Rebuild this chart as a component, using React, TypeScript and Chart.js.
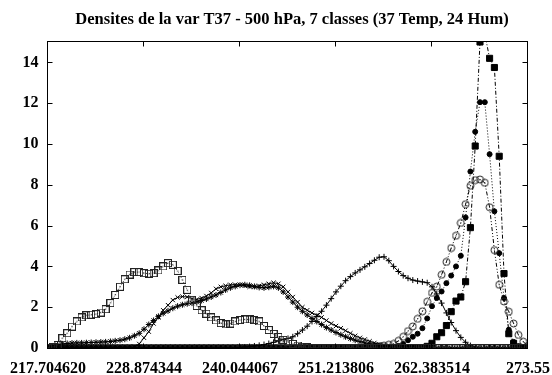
import React, { useEffect, useRef } from 'react';
import { Chart, registerables } from 'chart.js';

Chart.register(...registerables);

const FONT = '"Liberation Serif", "Times New Roman", serif';

const TITLE = 'Densites de la var T37 - 500 hPa, 7 classes (37 Temp, 24 Hum)';
const X_MIN = 217.70462;
const X_MAX = 273.553234;
const BIN_COUNT = 101;
const X_TICKS = [217.70462, 228.874344, 240.044067, 251.213806, 262.383514, 273.553234];
const X_TICK_LABELS = ['217.704620', '228.874344', '240.044067', '251.213806', '262.383514', '273.55'];
const Y_MAX = 15;
const Y_TICKS = [0, 2, 4, 6, 8, 10, 12, 14];

// class 1 : open squares
const CLASS_1 = [
  0, 0.05, 0.15, 0.48, 0.72, 1.05, 1.3, 1.5, 1.6, 1.63,
  1.66, 1.74, 1.9, 2.2, 2.6, 3.0, 3.37, 3.6, 3.72, 3.72,
  3.67, 3.64, 3.67, 3.8, 4.0, 4.16, 4.08, 3.78, 3.34, 2.85,
  2.36, 2.06, 1.85, 1.68, 1.5, 1.35, 1.22, 1.16, 1.2, 1.3,
  1.37, 1.4, 1.4, 1.37, 1.3, 1.08, 0.88, 0.69, 0.54, 0.4,
  0.3, 0.2, 0.12, 0.06, 0.03, 0, 0, 0, 0, 0,
  0, 0, 0, 0, 0, 0, 0, 0, 0, 0,
  0, 0, 0, 0, 0, 0, 0, 0, 0, 0,
  0, 0, 0, 0, 0, 0, 0, 0, 0, 0,
  0, 0, 0, 0, 0, 0, 0, 0, 0, 0,
  0,
];
// class 2 : crosses (x)
const CLASS_2 = [
  0, 0, 0, 0, 0, 0, 0, 0, 0, 0,
  0, 0, 0, 0, 0, 0, 0, 0, 0.05, 0.2,
  0.5, 0.8, 1.2, 1.5, 1.85, 2.1, 2.35, 2.48, 2.52, 2.5,
  2.42, 2.38, 2.45, 2.55, 2.7, 2.9, 3.0, 3.05, 3.1, 3.1,
  3.1, 3.05, 3.0, 3.0, 3.05, 3.1, 3.15, 3.2, 3.15, 3.0,
  2.75, 2.5, 2.25, 2.0, 1.85, 1.72, 1.6, 1.5, 1.35, 1.2,
  1.08, 0.97, 0.85, 0.72, 0.6, 0.5, 0.42, 0.33, 0.25, 0.18,
  0.13, 0.09, 0.06, 0.04, 0.02, 0, 0, 0, 0, 0,
  0, 0, 0, 0, 0, 0, 0, 0, 0, 0,
  0, 0, 0, 0, 0, 0, 0, 0, 0, 0,
  0,
];
// class 3 : stars (*)
const CLASS_3 = [
  0.05, 0.1, 0.15, 0.2, 0.22, 0.24, 0.25, 0.25, 0.26, 0.27,
  0.28, 0.29, 0.3, 0.32, 0.35, 0.38, 0.43, 0.5, 0.6, 0.72,
  0.92, 1.15, 1.35, 1.55, 1.7, 1.82, 1.95, 2.05, 2.12, 2.17,
  2.2, 2.25, 2.33, 2.4, 2.5, 2.6, 2.72, 2.85, 2.95, 3.02,
  3.08, 3.1, 3.07, 3.02, 2.97, 2.95, 2.98, 3.02, 2.95, 2.75,
  2.5, 2.25, 2.0, 1.8, 1.62, 1.45, 1.3, 1.15, 1.0, 0.88,
  0.76, 0.65, 0.55, 0.46, 0.38, 0.31, 0.25, 0.2, 0.15, 0.11,
  0.08, 0.05, 0.03, 0.02, 0, 0, 0, 0, 0, 0,
  0, 0, 0, 0, 0, 0, 0, 0, 0, 0,
  0, 0, 0, 0, 0, 0, 0, 0, 0, 0,
  0,
];
// class 4 : plus (+)
const CLASS_4 = [
  0, 0, 0, 0, 0, 0, 0, 0, 0, 0,
  0, 0, 0, 0, 0, 0, 0, 0, 0, 0,
  0, 0, 0, 0, 0, 0, 0, 0, 0, 0,
  0, 0, 0, 0, 0, 0, 0, 0, 0, 0,
  0.03, 0.05, 0.07, 0.1, 0.13, 0.17, 0.22, 0.28, 0.35, 0.42,
  0.47, 0.55, 0.7, 0.88, 1.07, 1.3, 1.55, 1.8, 2.1, 2.42,
  2.75, 3.03, 3.3, 3.5, 3.68, 3.83, 3.98, 4.14, 4.3, 4.45,
  4.47, 4.28, 4.0, 3.75, 3.55, 3.42, 3.33, 3.28, 3.24, 3.2,
  3.0, 2.65, 2.2, 1.72, 1.25, 0.85, 0.52, 0.28, 0.12, 0.05,
  0.02, 0, 0, 0, 0, 0, 0, 0, 0, 0,
  0,
];
// class 5 : open circles
const CLASS_5 = [
  0, 0, 0, 0, 0, 0, 0, 0, 0, 0,
  0, 0, 0, 0, 0, 0, 0, 0, 0, 0,
  0, 0, 0, 0, 0, 0, 0, 0, 0, 0,
  0, 0, 0, 0, 0, 0, 0, 0, 0, 0,
  0, 0, 0, 0, 0, 0, 0, 0, 0, 0,
  0, 0, 0, 0, 0, 0, 0, 0, 0, 0,
  0, 0, 0, 0, 0, 0, 0.02, 0.04, 0.06, 0.09,
  0.12, 0.16, 0.2, 0.35, 0.55, 0.83, 1.06, 1.43, 1.8, 2.27,
  2.7, 3.01, 3.59, 4.22, 4.9, 5.5, 6.13, 7.05, 7.95, 8.23,
  8.26, 8.1, 6.9, 4.8, 3.1, 2.28, 1.78, 1.2, 0.64, 0.31,
  0.1,
];
// class 6 : filled circles
const CLASS_6 = [
  0, 0, 0, 0, 0, 0, 0, 0, 0, 0,
  0, 0, 0, 0, 0, 0, 0, 0, 0, 0,
  0, 0, 0, 0, 0, 0, 0, 0, 0, 0,
  0, 0, 0, 0, 0, 0, 0, 0, 0, 0,
  0, 0, 0, 0, 0, 0, 0, 0, 0, 0,
  0, 0, 0, 0, 0, 0, 0, 0, 0, 0,
  0, 0, 0, 0, 0, 0, 0, 0, 0.01, 0.02,
  0.03, 0.04, 0.05, 0.1, 0.2, 0.38, 0.55, 0.7, 0.97, 1.45,
  2.05, 2.45, 2.77, 3.18, 3.55, 4.0, 4.52, 6.4, 8.65, 10.6,
  12.05, 12.05, 9.5, 6.7, 4.65, 2.45, 0.9, 0.3, 0.08, 0.02,
  0,
];
// class 7 : filled squares
const CLASS_7 = [
  0, 0, 0, 0, 0, 0, 0, 0, 0, 0,
  0, 0, 0, 0, 0, 0, 0, 0, 0, 0,
  0, 0, 0, 0, 0, 0, 0, 0, 0, 0,
  0, 0, 0, 0, 0, 0, 0, 0, 0, 0,
  0, 0, 0, 0, 0, 0, 0, 0, 0, 0,
  0, 0, 0, 0, 0, 0, 0, 0, 0, 0,
  0, 0, 0, 0, 0, 0, 0, 0, 0, 0,
  0, 0, 0, 0, 0, 0, 0, 0, 0.02, 0.08,
  0.23, 0.55, 0.75, 1.1, 1.78, 2.3, 2.5, 3.25, 5.9, 9.9,
  15.0, 15.4, 14.2, 13.75, 9.4, 3.65, 0.7, 0.23, 0.05, 0.01,
  0,
];

const X_STEP = (X_MAX - X_MIN) / (BIN_COUNT - 1);
const XS = Array.from({ length: BIN_COUNT }, (_, i) => X_MIN + i * X_STEP);

function squareDot(): HTMLCanvasElement {
  const c = document.createElement('canvas');
  c.width = 8; c.height = 8;
  const ctx = c.getContext('2d')!;
  ctx.strokeStyle = '#222';
  ctx.lineWidth = 1;
  ctx.strokeRect(0.5, 0.5, 7, 7);
  ctx.fillStyle = '#222';
  ctx.fillRect(3.5, 3.5, 1, 1);
  return c;
}
function circleDot(): HTMLCanvasElement {
  const c = document.createElement('canvas');
  c.width = 9; c.height = 9;
  const ctx = c.getContext('2d')!;
  ctx.strokeStyle = '#222';
  ctx.lineWidth = 1;
  ctx.beginPath();
  ctx.arc(4.5, 4.5, 3.5, 0, Math.PI * 2);
  ctx.stroke();
  ctx.fillStyle = '#222';
  ctx.fillRect(4, 4, 1, 1);
  return c;
}

const framePlugin = {
  id: 'frameTicks',
  afterDatasetsDraw(chart: any) {
    const { ctx, chartArea: a, scales } = chart;
    ctx.save();
    ctx.strokeStyle = '#000';
    ctx.lineWidth = 1;
    const L = a.left - 0.5, R = a.right - 0.5, T = a.top - 0.5, B = a.bottom + 0.5;
    ctx.strokeRect(L, T, R - L, B - T);
    ctx.beginPath();
    for (const v of Y_TICKS) {
      const py = Math.round(scales.y.getPixelForValue(v)) + 0.5;
      ctx.moveTo(L, py); ctx.lineTo(L + 5, py);
      ctx.moveTo(R, py); ctx.lineTo(R - 5, py);
    }
    for (const v of X_TICKS) {
      const px = Math.round(scales.x.getPixelForValue(v)) - 0.5;
      ctx.moveTo(px, B); ctx.lineTo(px, B - 5);
      ctx.moveTo(px, T); ctx.lineTo(px, T + 5);
    }
    ctx.stroke();
    ctx.restore();
  },
};

export default function App() {
  const ref = useRef<HTMLCanvasElement>(null);
  useEffect(() => {
    document.body.style.margin = '0';
    const canvas = ref.current!;
    const toPts = (arr: number[]) => arr.map((y, i) => ({ x: XS[i], y }));
    const base = { borderColor: '#000', backgroundColor: '#000', borderWidth: 1, pointBorderWidth: 1, tension: 0, showLine: true };
    const datasets: any[] = [
      { ...base, label: 'classe 1', data: toPts(CLASS_1), borderColor: '#333', borderDash: [1, 2], pointStyle: squareDot(), pointRadius: 4 },
      { ...base, label: 'classe 2', data: toPts(CLASS_2), pointStyle: 'crossRot', pointRadius: 3, pointBorderColor: '#000' },
      { ...base, label: 'classe 3', data: toPts(CLASS_3), pointStyle: 'star', pointRadius: 3, pointBorderColor: '#000' },
      { ...base, label: 'classe 4', data: toPts(CLASS_4), pointStyle: 'cross', pointRadius: 3, pointBorderColor: '#000' },
      { ...base, label: 'classe 5', data: toPts(CLASS_5), borderDash: [4, 2, 1, 2, 1, 2], pointStyle: circleDot(), pointRadius: 4 },
      { ...base, label: 'classe 6', data: toPts(CLASS_6), borderDash: [1, 2], pointStyle: 'circle', pointRadius: 2.5, pointBackgroundColor: '#000', pointBorderColor: '#000' },
      { ...base, label: 'classe 7', data: toPts(CLASS_7), borderDash: [4, 2, 1, 2], pointStyle: 'rect', pointRadius: 4.3, pointBackgroundColor: '#000', pointBorderColor: '#000' },
    ];
    const chart = new Chart(canvas, {
      type: 'scatter',
      data: { datasets },
      options: {
        animation: false,
        responsive: false,
        devicePixelRatio: 1,
        layout: { padding: { left: 32, right: 0, top: 0, bottom: 0 } },
        plugins: {
          legend: { display: false },
          tooltip: { enabled: false },
          title: {
            display: true,
            text: TITLE,
            color: '#000',
            font: { family: FONT, size: 16.5, weight: 'bold' },
            padding: { top: 9.6, bottom: 12.6 },
          },
        },
        scales: {
          x: {
            type: 'linear',
            min: X_MIN,
            max: X_MAX,
            grid: { display: false, drawTicks: false },
            border: { display: false },
            afterBuildTicks: (s: any) => { s.ticks = X_TICKS.map((v) => ({ value: v })); },
            afterFit: (s: any) => { s.height = 27; s.paddingLeft = 0; s.paddingRight = 0; },
            ticks: {
              autoSkip: false, maxRotation: 0, minRotation: 0,
              padding: 11.4,
              color: '#000',
              font: { family: FONT, size: 16, weight: 'bold' },
              callback: (_v: any, i: number) => X_TICK_LABELS[i],
            },
          },
          y: {
            type: 'linear',
            position: 'left',
            min: 0,
            max: Y_MAX,
            grid: { display: false, drawTicks: false },
            border: { display: false },
            afterBuildTicks: (s: any) => { s.ticks = Y_TICKS.map((v) => ({ value: v })); },
            afterFit: (s: any) => { s.width = 16; s.paddingTop = 0; s.paddingBottom = 0; },
            ticks: {
              mirror: true,
              crossAlign: 'far',
              padding: -25.5,
              color: '#000',
              font: { family: FONT, size: 16, weight: 'bold' },
            },
          },
          yRight: {
            type: 'linear',
            position: 'right',
            min: 0,
            max: Y_MAX,
            grid: { display: false, drawTicks: false },
            border: { display: false },
            ticks: { display: false },
            afterFit: (s: any) => { s.width = 24; s.paddingTop = 0; s.paddingBottom = 0; },
          },
        },
      },
      plugins: [framePlugin],
    } as any);
    return () => chart.destroy();
  }, []);
  return (
    <div style={{ position: 'absolute', left: 0, top: 0, width: 552, height: 375, background: '#fff' }}>
      <canvas ref={ref} width={552} height={375} style={{ display: 'block', width: 552, height: 375 }} />
    </div>
  );
}
